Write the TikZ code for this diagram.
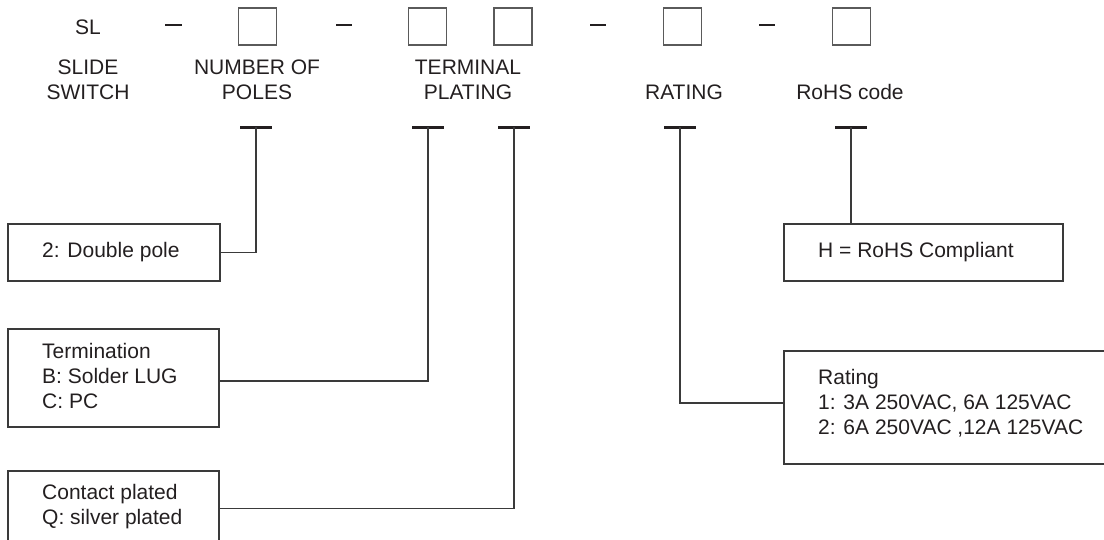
\documentclass[tikz,border=0pt]{standalone}
\usepackage{fontspec}
\setmainfont{Liberation Sans}
\definecolor{ink}{HTML}{231F20}
\definecolor{lin}{HTML}{3A3A3A}
\definecolor{sqc}{HTML}{5A5A5A}
\begin{document}
\begin{tikzpicture}[x=1pt,y=-1pt,
  every node/.style={font=\fontsize{21}{25}\selectfont, text=ink},
  box/.style={draw=lin, line width=1.5pt, inner sep=0pt, anchor=north west},
  txt/.style={align=left, inner sep=0pt, anchor=west},
  lbl/.style={align=center, inner sep=0pt},
  sq/.style={draw=sqc, line width=1.2pt, minimum width=38pt, minimum height=37pt, inner sep=0pt},
  dashln/.style={draw=ink, line width=1.8pt},
  tbar/.style={draw=ink, line width=3pt},
  conn/.style={draw=lin, line width=1.5pt}]
\useasboundingbox (0,0) rectangle (1104,539);

% top code row
\node[lbl] (sl) at (88,27) {SL};
\draw[dashln] (165,25) -- (182,25);
\node[sq] (sq1) at (257.5,26.5) {};
\draw[dashln] (336,25) -- (352,25);
\node[sq] (sq2) at (427.5,26.5) {};
\node[sq] (sq3) at (513,26.5) {};
\draw[dashln] (590,25) -- (606,25);
\node[sq] (sq4) at (682.5,26.5) {};
\draw[dashln] (759,25) -- (775,25);
\node[sq] (sq5) at (851.5,26.5) {};

% labels
\node[lbl] (l1) at (88,79.5) {SLIDE\\SWITCH};
\node[lbl] (l2) at (257,79.5) {NUMBER OF\\POLES};
\node[lbl] (l3) at (468,79.5) {TERMINAL\\PLATING};
\node[lbl] (l4) at (684,92) {RATING};
\node[lbl] (l5) at (850,92) {RoHS code};

% T markers
\coordinate (b1) at (256,127);
\coordinate (b2) at (428,127);
\coordinate (b3) at (514,127);
\coordinate (b4) at (680,127);
\coordinate (b5) at (851,127);
\foreach \b in {b1,b2,b3,b4,b5}
  \draw[tbar] ([xshift=-16pt]\b) -- ([xshift=16pt]\b);

% option boxes
\node[box, minimum width=212pt, minimum height=57pt] (dp) at (7,223) {};
\node[txt] (dpt) at ([xshift=35pt]dp.west) {2: Double pole};

\node[box, minimum width=211pt, minimum height=98pt] (tm) at (7,328) {};
\node[txt] (tmt) at ([xshift=35pt,yshift=1.5pt]tm.west) {Termination\\B: Solder LUG\\C: PC};

\node[box, minimum width=211pt, minimum height=75pt] (cp) at (7,470) {};
\node[txt, anchor=north west] (cpt) at (42,484) {Contact plated\\Q: silver plated};

\node[box, minimum width=279pt, minimum height=57pt] (rh) at (783,223) {};
\node[txt] (rht) at ([xshift=35pt]rh.west) {H = RoHS Compliant};

\node[box, minimum width=340pt, minimum height=113pt] (rt) at (783,350) {};
\node[txt, anchor=north west] (rtt) at (818,369.5) {Rating\\1: 3A 250VAC, 6A 125VAC\\2: 6A 250VAC ,12A 125VAC};

% connectors
\draw[conn] (dp.east) -| (b1);
\draw[conn] ([yshift=-3pt]tm.east) -| (b2);
\draw[conn] (cp.east) -| (b3);
\draw[conn] ([yshift=4.5pt]rt.west) -| (b4);
\draw[conn] (b5 |- rh.north) -- (b5);
\end{tikzpicture}
\end{document}
